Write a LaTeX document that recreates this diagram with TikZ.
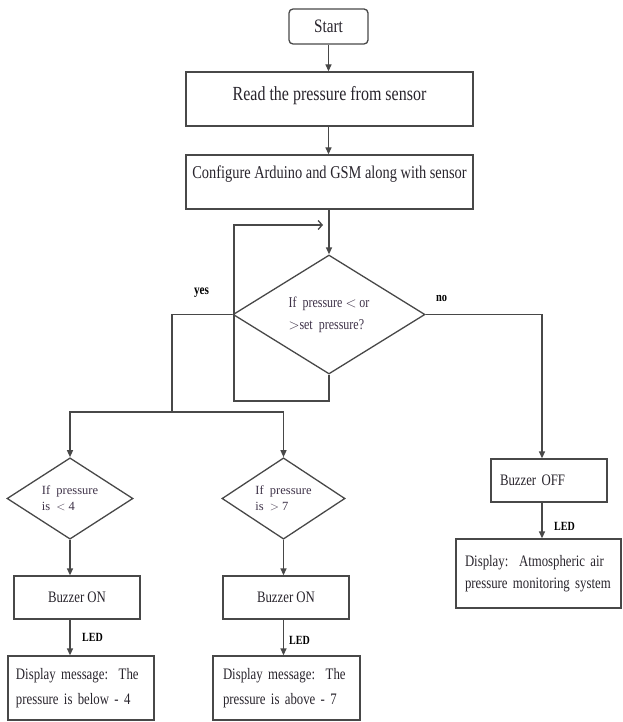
\documentclass[tikz,border=0pt]{standalone}
\usepackage{fontspec}
\setmainfont[FakeStretch=0.8]{Liberation Serif}
\newfontfamily\wideserif{Liberation Serif}
\usetikzlibrary{arrows.meta,shapes.geometric}
\definecolor{linec}{RGB}{72,72,72}
\definecolor{txtc}{RGB}{40,36,44}
\definecolor{dtxt}{RGB}{62,50,72}
\tikzset{
  box/.style={draw=linec, line width=1.3pt, rectangle, inner sep=0pt, text=txtc},
  dia/.style={draw=linec, line width=1.3pt, diamond, inner sep=0pt, text=dtxt},
  conn/.style={draw=linec, line width=1.3pt},
  arr/.style={conn, -{Triangle[length=7pt,width=6pt]}},
  lbl/.style={font=\bfseries\fontsize{12.5}{14}\selectfont, text=black, inner sep=0pt},
}
\begin{document}
\begin{tikzpicture}[x=1pt,y=-1pt]
\useasboundingbox (0,0) rectangle (622,722);
% nodes
\node[box, rounded corners=4pt, minimum width=79pt, minimum height=35pt, font=\fontsize{19}{22}\selectfont] (start) at (328.5,26.5) {Start};
\node[box, minimum width=287pt, minimum height=54pt, font=\fontsize{20}{24}\selectfont, text depth=12pt] (read) at (329.5,99) {Read the pressure from sensor};
\node[box, minimum width=287pt, minimum height=54pt, font=\fontsize{18}{22}\selectfont, text depth=20pt] (config) at (329.5,182) {Configure Arduino and GSM along with sensor};
\node[dia, minimum width=192pt, minimum height=119pt, align=left, font=\fontsize{15}{22}\selectfont] (dec) at (329,314.5) {If\ \ pressure $<$ or\\$>$set\ \ pressure?};
\node[dia, minimum width=126pt, minimum height=77pt, align=left, font=\wideserif\fontsize{12.5}{16}\selectfont] (d1) at (70,498.5) {If\ \ pressure\\is\ \ $<$ 4};
\node[dia, minimum width=123pt, minimum height=77pt, align=left, font=\wideserif\fontsize{12.5}{16}\selectfont] (d2) at (283.5,498.5) {If\ \ pressure\\is\ \ $>$ 7};
\node[box, minimum width=126pt, minimum height=43pt, font=\fontsize{16}{19}\selectfont] (on1) at (77,597.5) {Buzzer ON};
\node[box, minimum width=126pt, minimum height=43pt, font=\fontsize{16}{19}\selectfont] (on2) at (286,597.5) {Buzzer ON};
\node[box, minimum width=116pt, minimum height=43pt, text width=98pt, align=left, font=\fontsize{16}{19}\selectfont] (off) at (549,480.5) {Buzzer OFF};
\node[box, minimum width=146pt, minimum height=64pt, text width=130pt, align=left, font=\fontsize{16}{25}\selectfont] (disp1) at (81,688) {Display message:\ \ The\\pressure is below - 4};
\node[box, minimum width=147pt, minimum height=64pt, text width=127pt, align=left, font=\fontsize{16}{25}\selectfont] (disp2) at (286.5,688) {Display message:\ \ The\\pressure is above - 7};
\node[box, minimum width=165pt, minimum height=69pt, text width=147pt, align=left, font=\fontsize{16}{21.5}\selectfont] (disp3) at (538.5,573.5) {Display:\ \ Atmospheric air\\pressure monitoring system};
% labels
\node[lbl, font=\bfseries\fontsize{14}{16}\selectfont] (yes) at (201.5,293) {yes};
\node[lbl, font=\bfseries\fontsize{13}{15}\selectfont] (no) at (441.5,298) {no};
\node[lbl, anchor=west] (led1) at (82,637) {LED};
\node[lbl, anchor=west] (led2) at (289,640) {LED};
\node[lbl, anchor=west] (led3) at (554,526) {LED};
% coordinates
\coordinate (lb) at (234,401);
\coordinate (lt) at (234,225);
\coordinate (ysplit) at (172,412);
% connectors
\draw[arr] (start.south) -- (start.south |- read.north);
\draw[arr] (start.south |- read.south) -- (start.south |- config.north);
\draw[arr] (dec.north |- config.south) -- (dec.north);
\draw[conn, -{Straight Barb[length=4pt,width=9pt]}] (dec.south) |- (lb) -- (lt) -- ([xshift=-6pt]dec.north |- lt);
\draw[conn] (dec.west) -| (ysplit);
\draw[arr] (ysplit) -| (d1.north);
\draw[arr] (ysplit) -| (d2.north);
\draw[arr] (dec.east) -| ([xshift=-7pt]off.north);
\draw[arr] ([xshift=-7pt]off.south) -- ([xshift=-7pt]off.south |- disp3.north);
\draw[arr] (d1.south) -- (d1.south |- on1.north);
\draw[arr] (d1.south |- on1.south) -- (d1.south |- disp1.north);
\draw[arr] (d2.south) -- (d2.south |- on2.north);
\draw[arr] (d2.south |- on2.south) -- (d2.south |- disp2.north);
\end{tikzpicture}
\end{document}
